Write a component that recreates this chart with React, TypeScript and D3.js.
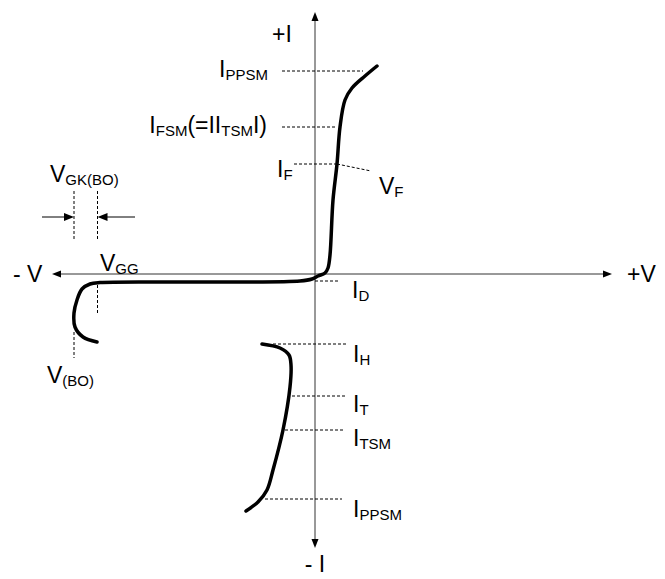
import React from "react";
import * as d3 from "d3";

// V-I points (arbitrary units, origin at the axis crossing)
const mainBranchV = [-21.8, -23.2, -24.0, -24.1, -23.8, -23.3, -22.5, -21.5, -11.5, -1.5, -0.3, 0.3, 1.0, 1.3, 1.5, 1.8, 2.2, 2.5, 3.0, 3.7, 5.0, 6.2];
const mainBranchI = [-6.8, -6.3, -5.3, -3.9, -2.6, -1.5, -1.0, -0.85, -0.8, -0.7, -0.5, -0.2, 0.1, 0.6, 1.9, 7.4, 11.0, 14.7, 17.4, 18.6, 19.8, 20.8];

const holdBranchV = [-5.3, -3.5, -2.6, -2.4, -2.5, -3.2, -4.2, -4.8, -5.7, -6.9];
const holdBranchI = [-7.0, -7.4, -8.1, -9.1, -11.3, -15.6, -19.6, -21.6, -22.8, -23.7];

// horizontal dashed current levels: [level, fromV, toV]
const currentLevels: [number, number, number][] = [
  [20.3, -3.3, 4.8], // I_PPSM
  [14.7, -3.3, 2.2], // I_FSM
  [11.0, -2.1, 2.2], // I_F
  [-0.7, 0, 2.5], // I_D
  [-7.0, -4.2, 3.1], // I_H
  [-12.2, -2.3, 3.1], // I_T
  [-15.6, -3.0, 2.8], // I_TSM
  [-22.5, -5.0, 2.7], // I_PPSM
];

// vertical dashed voltage markers: [V, fromI, toI]
const voltageMarkers: [number, number, number][] = [
  [-21.75, -1.1, -3.9], // V_GG
  [-24.1, -5.8, -8.4], // V_(BO)
  [-24.1, 8.3, 3.3], // V_GK(BO) left
  [-21.75, 8.3, 3.3], // V_GK(BO) right
];

const vfLeader: [number, number][] = [[2.2, 11.0], [5.6, 10.3]];

const W = 665;
const H = 579;
const FONT = "'Liberation Sans', Arial, Helvetica, sans-serif";
const SUB = 15;

const x = d3.scaleLinear().domain([-26.3, 29.7]).range([52, 612]);
const y = d3.scaleLinear().domain([-27.4, 26.2]).range([548, 12]);

type Lbl = { main: string; sub?: string; tail?: string; x: number; y: number; anchor?: string };

const labels: Lbl[] = [
  { main: "+I", x: 272, y: 42 },
  { main: "I", sub: "PPSM", x: 268, y: 77, anchor: "end" },
  { main: "I", sub: "FSM", tail: "(=II", x: 267, y: 133, anchor: "end" },
  { main: "I", sub: "F", x: 277, y: 177 },
  { main: "V", sub: "F", x: 379, y: 194 },
  { main: "V", sub: "GK(BO)", x: 50, y: 182 },
  { main: "V", sub: "GG", x: 100, y: 271 },
  { main: "- V", x: 13, y: 282 },
  { main: "+V", x: 627, y: 282 },
  { main: "I", sub: "D", x: 352, y: 298 },
  { main: "V", sub: "(BO)", x: 47, y: 383 },
  { main: "I", sub: "H", x: 353, y: 362 },
  { main: "I", sub: "T", x: 353, y: 412 },
  { main: "I", sub: "TSM", x: 353, y: 446 },
  { main: "I", sub: "PPSM", x: 353, y: 517 },
  { main: "- I", x: 315, y: 572, anchor: "middle" },
];

const Label = ({ l }: { l: Lbl }) => {
  if (l.tail) {
    // I_FSM(=|I_TSM|)
    return (
      <text x={l.x} y={l.y} textAnchor="end" fontSize={23} fontFamily={FONT}>
        <tspan>I</tspan>
        <tspan fontSize={SUB} dy={3}>FSM</tspan>
        <tspan dy={-3}>(=II</tspan>
        <tspan fontSize={SUB} dy={3}>TSM</tspan>
        <tspan dy={-3}>I)</tspan>
      </text>
    );
  }
  return (
    <text x={l.x} y={l.y} textAnchor={l.anchor || "start"} fontSize={23} fontFamily={FONT}>
      <tspan>{l.main}</tspan>
      {l.sub && (
        <tspan fontSize={SUB} dy={3}>
          {l.sub}
        </tspan>
      )}
    </text>
  );
};

export default function App() {
  const line = d3
    .line<[number, number]>()
    .x((d) => x(d[0]))
    .y((d) => y(d[1]))
    .curve(d3.curveCatmullRom.alpha(0.5));

  const mainPts = mainBranchV.map((v, i) => [v, mainBranchI[i]] as [number, number]);
  const holdPts = holdBranchV.map((v, i) => [v, holdBranchI[i]] as [number, number]);

  const x0 = x(0);
  const y0 = y(0);
  const axisColor = "#333";

  const [lx1, lx2] = [x(-24.1), x(-21.75)];
  const arrowY = y(5.7);

  return (
    <svg width={W} height={H} style={{ position: "absolute", left: 0, top: 0, background: "#fff" }}>
      {/* axes */}
      <line x1={x(-26.3) + 6} x2={x(29.7) - 6} y1={y0} y2={y0} stroke={axisColor} strokeWidth={1} />
      <line x1={x0} x2={x0} y1={y(26.2) + 6} y2={y(-27.4) - 6} stroke={axisColor} strokeWidth={1} />
      <path d={`M${x(29.7)},${y0} l-9,-3.5 l0,7 z`} fill="#000" />
      <path d={`M${x(-26.3)},${y0} l9,-3.5 l0,7 z`} fill="#000" />
      <path d={`M${x0},${y(26.2)} l-3.5,9 l7,0 z`} fill="#000" />
      <path d={`M${x0},${y(-27.4)} l-3.5,-9 l7,0 z`} fill="#000" />

      {/* dashed reference lines */}
      <g stroke="#000" strokeWidth={1} strokeDasharray="3,2" fill="none">
        {currentLevels.map(([lev, a, b], i) => (
          <line key={"c" + i} x1={x(a)} x2={x(b)} y1={y(lev)} y2={y(lev)} />
        ))}
        {voltageMarkers.map(([v, a, b], i) => (
          <line key={"v" + i} x1={x(v)} x2={x(v)} y1={y(a)} y2={y(b)} />
        ))}
        <line x1={x(vfLeader[0][0])} y1={y(vfLeader[0][1])} x2={x(vfLeader[1][0])} y2={y(vfLeader[1][1])} />
      </g>

      {/* V_GK(BO) arrows */}
      <line x1={x(-27.3)} x2={lx1 - 8} y1={arrowY} y2={arrowY} stroke="#000" strokeWidth={1} />
      <path d={`M${lx1},${arrowY} l-10,-4 l0,8 z`} fill="#000" />
      <line x1={x(-18.0)} x2={lx2 + 8} y1={arrowY} y2={arrowY} stroke="#000" strokeWidth={1} />
      <path d={`M${lx2},${arrowY} l10,-4 l0,8 z`} fill="#000" />

      {/* characteristic */}
      <path d={line(mainPts) || ""} fill="none" stroke="#000" strokeWidth={3.5} strokeLinecap="round" strokeLinejoin="round" />
      <path d={line(holdPts) || ""} fill="none" stroke="#000" strokeWidth={3.5} strokeLinecap="round" strokeLinejoin="round" />

      {labels.map((l, i) => (
        <Label key={i} l={l} />
      ))}
    </svg>
  );
}
